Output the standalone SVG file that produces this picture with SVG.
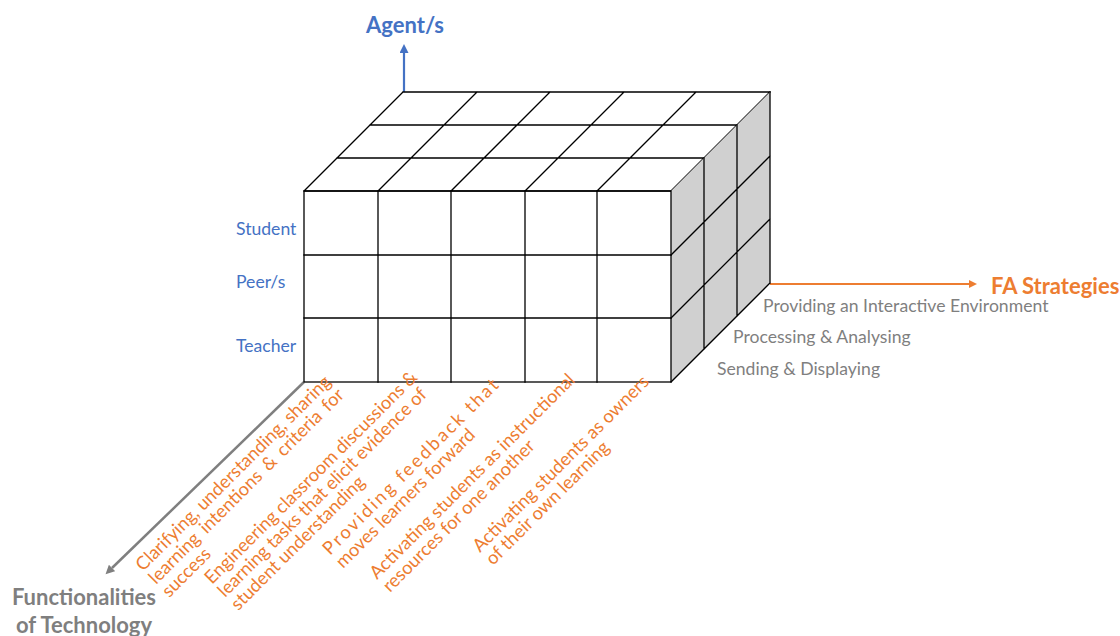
<svg xmlns="http://www.w3.org/2000/svg" width="1120" height="636" viewBox="0 0 1120 636">
<style>
.ln{stroke:#000;stroke-width:1.3;fill:none;stroke-linecap:square}
.t{font-family:Lato,"Liberation Sans",sans-serif;font-size:17.6px}
.r{font-family:Lato,"Liberation Sans",sans-serif;font-size:18.3px}
.b{font-family:Lato,"Liberation Sans",sans-serif;font-size:22px;font-weight:bold}
.blue{fill:#4472c4}.orange{fill:#ed7d31}.gray{fill:#7f7f7f}
</style>
<defs>
<marker id="ahB" viewBox="0 0 10 10" refX="0" refY="5" markerWidth="10" markerHeight="9" orient="auto" markerUnits="userSpaceOnUse"><path d="M0,0L10,5L0,10z" fill="#4472c4"/></marker>
<marker id="ahO" viewBox="0 0 10 10" refX="0" refY="5" markerWidth="9" markerHeight="8" orient="auto" markerUnits="userSpaceOnUse"><path d="M0,0L10,5L0,10z" fill="#ed7d31"/></marker>
<marker id="ahG" viewBox="0 0 10 10" refX="0" refY="5" markerWidth="10" markerHeight="9" orient="auto" markerUnits="userSpaceOnUse"><path d="M0,0L10,5L0,10z" fill="#7f7f7f"/></marker>
</defs>
<rect width="1120" height="636" fill="#fff"/>
<g id="connectors">
<line x1="404" y1="92" x2="404" y2="53" stroke="#4472c4" stroke-width="2.2" marker-end="url(#ahB)"/>
<line x1="770" y1="284" x2="969" y2="284" stroke="#ed7d31" stroke-width="2.2" marker-end="url(#ahO)"/>
<line x1="304" y1="382" x2="112" y2="568" stroke="#7f7f7f" stroke-width="2.5" marker-end="url(#ahG)"/>
</g>
<g id="cube">
<g id="top-face">
<polygon points="304,191 671,191 770,92 403,92" fill="#fff"/>
<path class="ln" d="M304,191H671M337,158H704M370,125H737M403,92H770M304,191L403,92M378,191L477,92M451,191L550,92M525,191L624,92M597,191L696,92M671,191L770,92"/>
</g>
<g id="side-face">
<polygon points="671,191 770,92 770,283 671,382" fill="#d0d0d0"/>
<path class="ln" d="M704,158V349M737,125V316M770,92V283M671,255L770,156M671,318L770,219M671,382L770,283"/>
</g>
<g id="front-face">
<rect x="304" y="191" width="367" height="191" fill="#fff" class="ln"/>
<path class="ln" d="M378,191V382M451,191V382M525,191V382M597,191V382M304,255H671M304,318H671"/>
</g>
</g>
<g id="axis-agents"><text class="b blue" x="405" y="33" text-anchor="middle">Agent/s</text></g>
<g id="axis-fa"><text class="b orange" x="991" y="294">FA Strategies</text></g>
<g id="axis-func"><text class="b gray" text-anchor="middle"><tspan x="84" y="605">Functionalities</tspan><tspan x="84" y="633">of Technology</tspan></text></g>
<g id="agent-student"><text class="t blue" x="236" y="235">Student</text></g>
<g id="agent-peers"><text class="t blue" x="236" y="288">Peer/s</text></g>
<g id="agent-teacher"><text class="t blue" x="236" y="352">Teacher</text></g>
<g id="func-interactive"><text class="t gray" x="763" y="312">Providing an Interactive Environment</text></g>
<g id="func-processing"><text class="t gray" x="733" y="343">Processing &amp; Analysing</text></g>
<g id="func-sending"><text class="t gray" x="717" y="375">Sending &amp; Displaying</text></g>
<g id="strategy-1"><text class="r orange" transform="translate(143,572) rotate(-45)"><tspan x="0" y="0">Clarifying, understanding, sharing</tspan><tspan x="0" dy="18.5" word-spacing="3">learning intentions &amp; criteria for</tspan><tspan x="0" dy="18.5">success</tspan></text></g>
<g id="strategy-2"><text class="r orange" transform="translate(212,585) rotate(-45)"><tspan x="0" y="0">Engineering classroom discussions &amp;</tspan><tspan x="0" dy="18.5">learning tasks that elicit evidence of</tspan><tspan x="0" dy="18.5">student understanding</tspan></text></g>
<g id="strategy-3"><text class="r orange" transform="translate(330,556) rotate(-45)"><tspan x="0" y="0" textLength="240" lengthAdjust="spacing">Providing feedback that</tspan><tspan x="0" dy="18.5">moves learners forward</tspan></text></g>
<g id="strategy-4"><text class="r orange" transform="translate(377,580) rotate(-45)"><tspan x="0" y="0">Activating students as instructional</tspan><tspan x="0" dy="18.5">resources for one another</tspan></text></g>
<g id="strategy-5"><text class="r orange" transform="translate(480,553) rotate(-45)"><tspan x="0" y="0">Activating students as owners</tspan><tspan x="0" dy="18.5">of their own learning</tspan></text></g>
</svg>
